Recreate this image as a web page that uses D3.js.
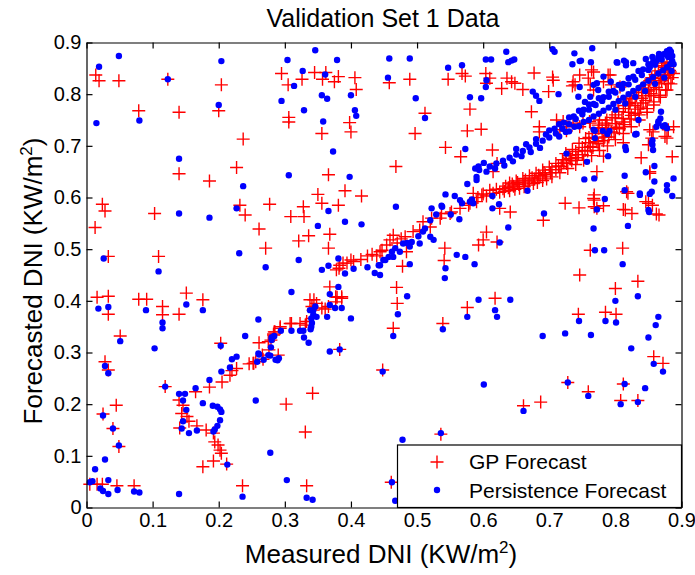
<!DOCTYPE html>
<html>
<head>
<meta charset="utf-8">
<script src="https://cdn.jsdelivr.net/npm/d3@7"></script>
<style>
  body { margin: 0; background: #fff; }
  text { font-family: "Liberation Sans", Arial, sans-serif; fill: #000; }
</style>
</head>
<body>
<script>
// ---- data ----
const xTicks = [0, 0.1, 0.2, 0.3, 0.4, 0.5, 0.6, 0.7, 0.8, 0.9];
const yTicks = [0, 0.1, 0.2, 0.3, 0.4, 0.5, 0.6, 0.7, 0.8, 0.9];
const tickLabels = ["0", "0.1", "0.2", "0.3", "0.4", "0.5", "0.6", "0.7", "0.8", "0.9"];
const seriesNames = ["GP Forecast", "Persistence Forecast"];

// GP forecast, scattered points
const gpScatter = [
  [0.014,0.837],[0.019,0.826],[0.049,0.826],[0.123,0.829],[0.204,0.818],[0.079,0.768],[0.140,0.765],[0.200,0.768],
  [0.237,0.713],[0.140,0.646],[0.186,0.632],[0.227,0.658],[0.024,0.587],[0.028,0.574],[0.013,0.542],[0.103,0.569],
  [0.232,0.585],[0.240,0.566],[0.277,0.587],[0.261,0.539],[0.271,0.502],[0.033,0.486],[0.109,0.486],[0.295,0.840],
  [0.305,0.818],[0.326,0.829],[0.345,0.842],[0.362,0.842],[0.357,0.829],[0.375,0.824],[0.381,0.834],[0.406,0.832],
  [0.408,0.809],[0.306,0.755],[0.306,0.746],[0.356,0.724],[0.398,0.745],[0.400,0.727],[0.366,0.644],[0.350,0.606],
  [0.391,0.613],[0.416,0.603],[0.328,0.582],[0.356,0.589],[0.381,0.585],[0.309,0.563],[0.329,0.563],[0.336,0.526],
  [0.321,0.516],[0.368,0.529],[0.366,0.502],
  [0.016,0.407],[0.033,0.409],[0.033,0.374],[0.079,0.403],[0.091,0.403],[0.115,0.389],[0.115,0.373],[0.140,0.374],
  [0.151,0.415],[0.176,0.402],[0.051,0.332],[0.028,0.282],[0.033,0.266],[0.025,0.181],[0.045,0.198],[0.040,0.153],
  [0.049,0.118],[0.005,0.045],[0.016,0.045],[0.024,0.045],[0.046,0.042],[0.072,0.042],[0.203,0.318],[0.302,0.200],
  [0.342,0.221],[0.331,0.146],[0.236,0.042],[0.333,0.042],[0.383,0.306],
  [0.458,0.822],[0.489,0.829],[0.547,0.829],[0.568,0.840],[0.573,0.835],[0.604,0.840],[0.610,0.831],[0.605,0.821],
  [0.628,0.811],[0.636,0.831],[0.643,0.824],[0.648,0.821],[0.660,0.809],[0.677,0.841],[0.699,0.805],[0.705,0.833],
  [0.706,0.827],[0.735,0.816],[0.746,0.837],[0.759,0.831],[0.764,0.847],[0.767,0.808],[0.789,0.837],[0.794,0.818],
  [0.512,0.763],[0.580,0.771],[0.673,0.766],[0.497,0.724],[0.576,0.729],[0.597,0.732],[0.685,0.727],[0.685,0.737],
  [0.543,0.697],[0.566,0.679],[0.614,0.692],[0.621,0.666],[0.615,0.650],[0.468,0.660],[0.839,0.677],[0.886,0.679],
  [0.850,0.702],[0.878,0.715],[0.888,0.737],[0.852,0.731],[0.819,0.608],[0.850,0.589],[0.862,0.568],[0.852,0.647],
  [0.724,0.589],[0.745,0.580],[0.768,0.605],[0.768,0.595],[0.772,0.579],[0.815,0.576],[0.825,0.569],[0.691,0.556],
  [0.641,0.572],[0.625,0.579],[0.605,0.533],[0.600,0.518],[0.593,0.508],[0.621,0.514],[0.762,0.498],[0.811,0.502],
  [0.746,0.450],[0.484,0.495],[0.478,0.467],[0.542,0.502],[0.541,0.478],[0.469,0.426],[0.470,0.395],[0.464,0.347],
  [0.618,0.405],[0.576,0.387],[0.539,0.356],[0.448,0.266],[0.536,0.142],[0.800,0.424],[0.834,0.438],[0.744,0.374],
  [0.785,0.378],[0.801,0.374],[0.858,0.292],[0.872,0.279],[0.728,0.242],[0.759,0.224],[0.812,0.239],[0.808,0.207],
  [0.834,0.207],[0.661,0.197],[0.687,0.204],[0.461,0.049],
  [0.726,0.729],[0.812,0.706],[0.782,0.680],[0.772,0.650],[0.852,0.650],[0.857,0.727],[0.855,0.715],[0.817,0.611],
  [0.767,0.598],[0.768,0.582],[0.782,0.584],[0.812,0.577],[0.846,0.592],[0.856,0.585],[0.866,0.566],
  [0.711,0.750],[0.721,0.747],[0.736,0.744],[0.751,0.744],[0.761,0.747],[0.776,0.750],[0.787,0.750],
  [0.736,0.824],[0.739,0.818],[0.767,0.843],[0.792,0.837],[0.782,0.824],[0.807,0.814],[0.817,0.792],[0.822,0.782],
  [0.804,0.785],[0.762,0.818],[0.888,0.840],[0.883,0.843],[0.880,0.821],[0.880,0.731],[0.875,0.718],[0.746,0.737],
  [0.762,0.744],[0.774,0.740],[0.787,0.740],[0.726,0.737],[0.716,0.731]
];

// GP forecast, points that follow the diagonal
const gpTrend = [
  [0.119,0.234],[0.140,0.208],[0.146,0.198],[0.144,0.182],[0.152,0.176],[0.141,0.154],[0.155,0.167],[0.165,0.224],
  [0.167,0.158],[0.181,0.150],[0.192,0.144],[0.194,0.127],[0.199,0.121],[0.202,0.111],[0.204,0.105],[0.192,0.090],
  [0.176,0.079],[0.212,0.084],[0.186,0.233],[0.205,0.243],[0.217,0.256],[0.220,0.265],[0.227,0.269],[0.246,0.278],
  [0.252,0.279],[0.267,0.287],[0.261,0.319],[0.275,0.321],[0.283,0.336],[0.285,0.340],[0.293,0.350],[0.290,0.295],
  [0.308,0.356],[0.323,0.356],[0.333,0.360],[0.338,0.402],[0.348,0.395],[0.343,0.382],[0.361,0.384],[0.368,0.427],
  [0.377,0.408],[0.386,0.408],[0.378,0.460],[0.383,0.469],[0.394,0.473],[0.404,0.476],
  [0.344,0.402],[0.341,0.389],[0.356,0.386],[0.366,0.389],[0.379,0.407],[0.386,0.405],[0.377,0.398],[0.310,0.356],
  [0.331,0.353],[0.341,0.366],[0.293,0.347],[0.284,0.340],[0.283,0.334],[0.279,0.324],[0.276,0.305],[0.266,0.295],
  [0.256,0.282],[0.253,0.279],
  [0.382,0.463],[0.388,0.473],[0.400,0.479],[0.425,0.487],[0.439,0.487],[0.415,0.480],[0.432,0.490],[0.444,0.495],
  [0.464,0.527],[0.459,0.518],[0.454,0.508],[0.447,0.498],[0.470,0.512],[0.476,0.520],[0.482,0.524],[0.494,0.534],
  [0.509,0.553],[0.522,0.560],[0.537,0.569],[0.552,0.572],[0.565,0.579],[0.578,0.585],[0.590,0.592],[0.598,0.605],
  [0.585,0.608],[0.504,0.537],[0.520,0.543],[0.535,0.560],[0.550,0.569],[0.580,0.589],[0.600,0.607],[0.610,0.614],
  [0.620,0.616],[0.605,0.603],[0.615,0.608],[0.592,0.600]
];

// GP forecast, the dense band in the upper right
const gpBand = [
  [0.630,0.617],[0.638,0.619],[0.646,0.622],[0.654,0.625],[0.662,0.628],[0.670,0.632],[0.678,0.636],[0.686,0.640],
  [0.694,0.644],[0.702,0.648],[0.710,0.654],[0.718,0.660],[0.726,0.666],[0.734,0.671],[0.742,0.677],[0.750,0.683],
  [0.758,0.690],[0.766,0.697],[0.774,0.704],[0.782,0.710],[0.790,0.717],[0.798,0.725],[0.806,0.733],[0.814,0.741],
  [0.822,0.752],[0.830,0.763],[0.838,0.775],[0.846,0.788],[0.854,0.801],[0.862,0.813],[0.870,0.826],[0.876,0.836],
  [0.882,0.846],
  [0.634,0.622],[0.644,0.626],[0.652,0.629],[0.664,0.634],[0.674,0.638],[0.684,0.643],[0.692,0.648],[0.704,0.654],
  [0.714,0.661],[0.722,0.667],[0.732,0.675],[0.744,0.683],[0.754,0.691],[0.762,0.699],[0.772,0.708],[0.784,0.717],
  [0.794,0.727],[0.802,0.736],[0.812,0.746],[0.824,0.759],[0.834,0.771],[0.842,0.783],[0.852,0.797],[0.858,0.809],
  [0.866,0.820],[0.874,0.830],[0.880,0.838],
  [0.640,0.628],[0.650,0.632],[0.660,0.637],[0.670,0.642],[0.680,0.647],[0.690,0.653],[0.700,0.659],[0.710,0.666],
  [0.720,0.673],[0.730,0.681],[0.740,0.689],[0.750,0.697],[0.760,0.706],[0.770,0.715],[0.780,0.724],[0.790,0.733],
  [0.800,0.743],[0.810,0.753],[0.820,0.765],[0.830,0.778],[0.840,0.792],[0.850,0.806],[0.860,0.822],[0.868,0.836],
  [0.875,0.848],[0.882,0.856],
  [0.725,0.685],[0.735,0.693],[0.760,0.716],[0.780,0.735],[0.800,0.754],[0.820,0.778],[0.840,0.803],[0.860,0.830],
  [0.875,0.852],
  [0.745,0.705],[0.755,0.714],[0.765,0.724],[0.775,0.734],[0.785,0.744],[0.795,0.755],[0.805,0.766],[0.815,0.778],
  [0.825,0.791],[0.835,0.804],[0.845,0.818],[0.855,0.832],[0.865,0.845],[0.872,0.855],
  [0.800,0.760],[0.812,0.772],[0.822,0.784],[0.832,0.797],[0.842,0.812],[0.852,0.826],[0.860,0.838],[0.870,0.860],
  [0.878,0.862],[0.886,0.832],[0.884,0.820],[0.876,0.808],[0.866,0.798],[0.858,0.785],[0.848,0.772],[0.836,0.760],
  [0.625,0.610],[0.640,0.613],[0.655,0.618],[0.668,0.624],[0.682,0.629],[0.696,0.636],
  [0.632,0.612],[0.648,0.616],[0.662,0.621],[0.676,0.627],[0.690,0.633],[0.704,0.640],[0.716,0.648],[0.728,0.656],
  [0.740,0.664],[0.752,0.672],[0.764,0.681],[0.776,0.691],[0.788,0.700],[0.800,0.712],[0.812,0.724],[0.824,0.737],
  [0.836,0.750],[0.848,0.765],[0.858,0.779],[0.868,0.794],[0.878,0.808]
];

// Persistence forecast, scattered points
const persScatter = [
  [0.049,0.874],[0.019,0.853],[0.123,0.829],[0.204,0.864],[0.015,0.744],[0.080,0.749],[0.200,0.779],[0.140,0.675],
  [0.237,0.622],[0.140,0.569],[0.186,0.561],[0.227,0.579],[0.026,0.482],[0.109,0.457],[0.231,0.492],[0.271,0.465],
  [0.304,0.866],[0.346,0.885],[0.327,0.845],[0.314,0.816],[0.361,0.838],[0.379,0.866],[0.295,0.787],[0.356,0.798],
  [0.364,0.791],[0.400,0.798],[0.329,0.769],[0.358,0.747],[0.406,0.769],[0.408,0.758],[0.373,0.689],[0.306,0.643],
  [0.398,0.640],[0.366,0.574],[0.350,0.545],[0.391,0.553],[0.416,0.548],[0.321,0.479],[0.356,0.460],[0.366,0.468],
  [0.018,0.385],[0.033,0.388],[0.090,0.382],[0.151,0.393],[0.176,0.382],[0.115,0.358],[0.115,0.347],[0.051,0.322],
  [0.103,0.308],[0.028,0.274],[0.033,0.260],[0.025,0.178],[0.040,0.153],[0.049,0.120],[0.028,0.093],[0.013,0.074],
  [0.005,0.049],[0.009,0.051],[0.021,0.037],[0.025,0.032],[0.033,0.053],[0.033,0.026],[0.047,0.034],[0.072,0.031],
  [0.080,0.029],[0.140,0.026],[0.278,0.106],[0.303,0.053],[0.236,0.021],[0.333,0.019],[0.342,0.015],[0.256,0.207],
  [0.213,0.083],[0.203,0.313],[0.310,0.417],[0.400,0.366],[0.368,0.302],[0.383,0.306],
  [0.543,0.463],[0.542,0.444],[0.560,0.489],[0.573,0.485],[0.587,0.471],[0.638,0.542],[0.625,0.513],[0.692,0.569],
  [0.485,0.409],[0.593,0.402],[0.641,0.402],[0.458,0.869],[0.489,0.869],[0.456,0.832],[0.547,0.851],[0.568,0.856],
  [0.635,0.882],[0.604,0.867],[0.612,0.867],[0.638,0.862],[0.643,0.865],[0.647,0.867],[0.705,0.887],[0.708,0.882],
  [0.738,0.879],[0.748,0.865],[0.735,0.858],[0.765,0.889],[0.763,0.862],[0.802,0.862],[0.813,0.865],[0.816,0.862],
  [0.605,0.827],[0.604,0.814],[0.498,0.792],[0.512,0.754],[0.580,0.794],[0.597,0.792],[0.573,0.694],[0.675,0.805],
  [0.680,0.797],[0.685,0.787],[0.714,0.800],[0.744,0.795],[0.754,0.785],[0.772,0.821],[0.793,0.824],
  [0.767,0.540],[0.769,0.498],[0.783,0.498],[0.811,0.471],[0.819,0.545],[0.814,0.642],[0.814,0.614],[0.837,0.608],
  [0.851,0.572],[0.855,0.611],[0.859,0.661],[0.859,0.631],[0.878,0.624],[0.878,0.614],[0.888,0.637],[0.886,0.603],
  [0.869,0.766],[0.865,0.747],[0.875,0.740],[0.856,0.711],[0.856,0.702],[0.831,0.723],[0.816,0.692],[0.789,0.680],
  [0.757,0.669],[0.768,0.637],[0.726,0.685],[0.753,0.635],[0.667,0.613],[0.846,0.649],[0.772,0.577],[0.784,0.597],
  [0.852,0.607],[0.837,0.605],[0.850,0.576],[0.769,0.729],[0.769,0.715],[0.781,0.729],[0.791,0.729],[0.788,0.723],
  [0.832,0.723],[0.862,0.737],[0.872,0.738],[0.855,0.706],[0.857,0.692],
  [0.444,0.450],[0.471,0.374],[0.464,0.332],[0.539,0.345],[0.576,0.369],[0.618,0.382],[0.621,0.369],[0.690,0.332],
  [0.724,0.337],[0.763,0.334],[0.745,0.361],[0.785,0.361],[0.801,0.358],[0.800,0.400],[0.834,0.409],[0.865,0.369],
  [0.861,0.353],[0.850,0.329],[0.824,0.308],[0.858,0.278],[0.872,0.263],[0.448,0.263],[0.601,0.238],[0.728,0.242],
  [0.759,0.216],[0.814,0.239],[0.845,0.231],[0.808,0.200],[0.834,0.204],[0.661,0.187],[0.536,0.144],[0.478,0.131],
  [0.462,0.049],[0.467,0.013],
  [0.746,0.864],[0.803,0.861],[0.816,0.856],[0.827,0.860],[0.746,0.814],[0.767,0.818],[0.774,0.808],[0.782,0.834],
  [0.762,0.795],[0.835,0.750],[0.830,0.722],[0.868,0.753],[0.865,0.744],[0.878,0.734],[0.767,0.731],[0.815,0.698]
];

// Persistence forecast, points that follow the diagonal
const persTrend = [
  [0.119,0.234],[0.140,0.220],[0.149,0.220],[0.146,0.207],[0.151,0.189],[0.146,0.167],[0.144,0.153],[0.155,0.144],
  [0.167,0.149],[0.176,0.202],[0.165,0.231],[0.186,0.247],[0.191,0.197],[0.198,0.195],[0.202,0.190],[0.204,0.185],
  [0.202,0.169],[0.198,0.158],[0.194,0.151],[0.192,0.147],[0.204,0.263],[0.217,0.271],[0.220,0.287],[0.227,0.292],
  [0.240,0.332],[0.260,0.364],[0.261,0.296],[0.279,0.310],[0.280,0.329],[0.284,0.332],[0.278,0.294],[0.289,0.285],
  [0.291,0.289],[0.294,0.342],[0.310,0.342],[0.323,0.342],[0.328,0.342],[0.340,0.350],[0.340,0.366],[0.338,0.382],
  [0.343,0.382],[0.329,0.329],[0.336,0.319],[0.364,0.369],[0.368,0.392],[0.376,0.386],[0.386,0.386],[0.368,0.413],
  [0.381,0.427],[0.391,0.453],
  [0.346,0.389],[0.343,0.373],[0.348,0.369],[0.341,0.357],[0.339,0.345],[0.283,0.331],[0.280,0.324],[0.275,0.295],
  [0.260,0.298],[0.258,0.282],[0.268,0.286],[0.286,0.286],
  [0.381,0.482],[0.404,0.462],[0.425,0.465],[0.436,0.454],[0.442,0.469],
  [0.444,0.469],[0.449,0.479],[0.452,0.479],[0.457,0.485],[0.464,0.485],[0.462,0.495],[0.467,0.502],[0.474,0.495],
  [0.479,0.511],[0.485,0.512],[0.489,0.505],[0.492,0.514],[0.502,0.525],[0.504,0.511],[0.509,0.534],[0.512,0.540],
  [0.520,0.524],[0.525,0.518],[0.520,0.556],[0.529,0.567],[0.522,0.579],[0.537,0.584],[0.538,0.582],[0.551,0.567],
  [0.564,0.558],[0.543,0.606],[0.557,0.603],[0.565,0.595],[0.568,0.589],[0.580,0.592],[0.583,0.596],[0.585,0.589],
  [0.576,0.626],[0.590,0.634],[0.590,0.640],[0.594,0.653],[0.593,0.660],[0.588,0.656],[0.601,0.667],[0.614,0.603],
  [0.624,0.587],[0.614,0.579],[0.468,0.582],[0.489,0.471]
];

// Persistence forecast, the dense band in the upper right
const persBand = [
  [0.610,0.660],[0.620,0.666],[0.630,0.671],[0.640,0.677],[0.650,0.683],[0.660,0.690],[0.670,0.697],[0.680,0.704],
  [0.690,0.710],[0.700,0.716],[0.710,0.724],[0.720,0.733],[0.730,0.742],[0.740,0.752],[0.750,0.761],[0.760,0.770],
  [0.770,0.779],[0.780,0.787],[0.790,0.795],[0.800,0.803],[0.810,0.811],[0.820,0.819],[0.830,0.828],[0.840,0.837],
  [0.850,0.847],[0.860,0.857],[0.870,0.867],[0.878,0.876],[0.884,0.882],
  [0.605,0.650],[0.618,0.656],[0.632,0.662],[0.645,0.670],[0.658,0.680],[0.672,0.688],[0.686,0.696],
  [0.650,0.694],[0.665,0.703],[0.680,0.713],[0.695,0.722],[0.708,0.733],[0.722,0.745],[0.737,0.757],[0.752,0.770],
  [0.767,0.781],[0.782,0.794],[0.797,0.806],[0.812,0.820],[0.827,0.834],[0.842,0.848],[0.857,0.862],[0.870,0.875],
  [0.882,0.886],
  [0.700,0.730],[0.715,0.742],[0.730,0.755],[0.745,0.768],[0.760,0.780],[0.775,0.792],[0.790,0.805],[0.805,0.818],
  [0.820,0.831],[0.835,0.845],[0.850,0.858],[0.865,0.871],[0.878,0.883],
  [0.715,0.718],[0.725,0.727],[0.738,0.737],[0.752,0.746],[0.767,0.757],[0.782,0.768],[0.797,0.781],[0.812,0.793],
  [0.827,0.806],[0.842,0.819],[0.857,0.833],[0.872,0.846],[0.883,0.858],
  [0.730,0.728],[0.745,0.738],[0.760,0.750],[0.775,0.762],[0.790,0.774],[0.805,0.787],[0.820,0.800],[0.835,0.812],
  [0.850,0.826],[0.865,0.840],[0.878,0.852],[0.886,0.864],
  [0.800,0.770],[0.815,0.782],[0.830,0.795],[0.845,0.806],[0.860,0.820],[0.874,0.832],[0.885,0.845],[0.888,0.858],
  [0.846,0.868],[0.856,0.872],[0.866,0.878],[0.874,0.878],[0.880,0.872],[0.886,0.874],[0.862,0.864],[0.852,0.852]
];

const gpData = gpScatter.concat(gpTrend, gpBand);
const persData = persScatter.concat(persTrend, persBand);

// ---- layout ----
const W = 695, H = 575;
const plot = {left: 86.5, right: 681.5, top: 42.5, bottom: 507.5};

const svg = d3.select("body").append("svg")
  .attr("width", W).attr("height", H);

const x = d3.scaleLinear().domain([0, 0.9]).range([plot.left, plot.right]);
const y = d3.scaleLinear().domain([0, 0.9]).range([plot.bottom, plot.top]);

const fmt = (d) => tickLabels[xTicks.indexOf(d)];

// points first, frame on top
const pts = svg.append("g");

pts.append("g").selectAll("path")
  .data(gpData).enter()
  .append("path")
  .attr("transform", (d) => `translate(${x(d[0])},${y(d[1])})`)
  .attr("d", "M-6.5,0H6.5M0,-6.5V6.5")
  .attr("stroke", "#ff0000")
  .attr("stroke-width", 1.4)
  .attr("fill", "none");

pts.append("g").selectAll("circle")
  .data(persData).enter()
  .append("circle")
  .attr("cx", (d) => x(d[0]))
  .attr("cy", (d) => y(d[1]))
  .attr("r", 3.2)
  .attr("fill", "#0000ff");

// axes: MATLAB style box with ticks pointing in
const axStyle = (g) => {
  g.select(".domain").attr("stroke", "#000").attr("stroke-width", 1.2);
  g.selectAll(".tick line").attr("stroke", "#000").attr("stroke-width", 1.2);
  g.selectAll("text").attr("font-size", 20).attr("fill", "#000")
   .attr("font-family", "Liberation Sans, Arial, sans-serif");
};

svg.append("g")
  .attr("transform", `translate(0,${plot.bottom})`)
  .call(d3.axisBottom(x).tickValues(xTicks).tickFormat(fmt).tickSizeInner(-6).tickSizeOuter(0).tickPadding(5))
  .call(axStyle);

svg.append("g")
  .attr("transform", `translate(${plot.left},0)`)
  .call(d3.axisLeft(y).tickValues(yTicks).tickFormat(fmt).tickSizeInner(-6).tickSizeOuter(0).tickPadding(5))
  .call(axStyle);

svg.append("g")
  .attr("transform", `translate(0,${plot.top})`)
  .call(d3.axisTop(x).tickValues(xTicks).tickFormat("").tickSizeInner(-6).tickSizeOuter(0))
  .call(axStyle);

svg.append("g")
  .attr("transform", `translate(${plot.right},0)`)
  .call(d3.axisRight(y).tickValues(yTicks).tickFormat("").tickSizeInner(-6).tickSizeOuter(0))
  .call(axStyle);

// titles
svg.append("text")
  .attr("x", 383).attr("y", 27)
  .attr("text-anchor", "middle")
  .attr("font-size", 25)
  .text("Validation Set 1 Data");

const xl = svg.append("text")
  .attr("x", 381).attr("y", 563)
  .attr("text-anchor", "middle")
  .attr("font-size", 26);
xl.append("tspan").text("Measured DNI (KW/m");
xl.append("tspan").attr("dy", -10).attr("font-size", 17).text("2");
xl.append("tspan").attr("dy", 10).text(")");

const yl = svg.append("text")
  .attr("transform", `translate(42,${(plot.top + plot.bottom) / 2 + 6}) rotate(-90)`)
  .attr("text-anchor", "middle")
  .attr("font-size", 26);
yl.append("tspan").text("Forecasted DNI (KW/m");
yl.append("tspan").attr("dy", -10).attr("font-size", 17).text("2");
yl.append("tspan").attr("dy", 10).text(")");

// legend, drawn over the points in the lower right corner
const leg = svg.append("g");
leg.append("rect")
  .attr("x", 397.5).attr("y", 445)
  .attr("width", plot.right - 397.5).attr("height", plot.bottom - 445)
  .attr("fill", "#fff").attr("stroke", "#000").attr("stroke-width", 1.2);

leg.append("path")
  .attr("transform", "translate(437,462)")
  .attr("d", "M-6.5,0H6.5M0,-6.5V6.5")
  .attr("stroke", "#ff0000").attr("stroke-width", 1.4);
leg.append("circle")
  .attr("cx", 437).attr("cy", 490).attr("r", 3.2)
  .attr("fill", "#0000ff");

leg.selectAll("text.lab")
  .data(seriesNames).enter()
  .append("text")
  .attr("class", "lab")
  .attr("x", 469)
  .attr("y", (d, i) => 469 + i * 29)
  .attr("font-size", 21)
  .text((d) => d);
</script>
</body>
</html>
